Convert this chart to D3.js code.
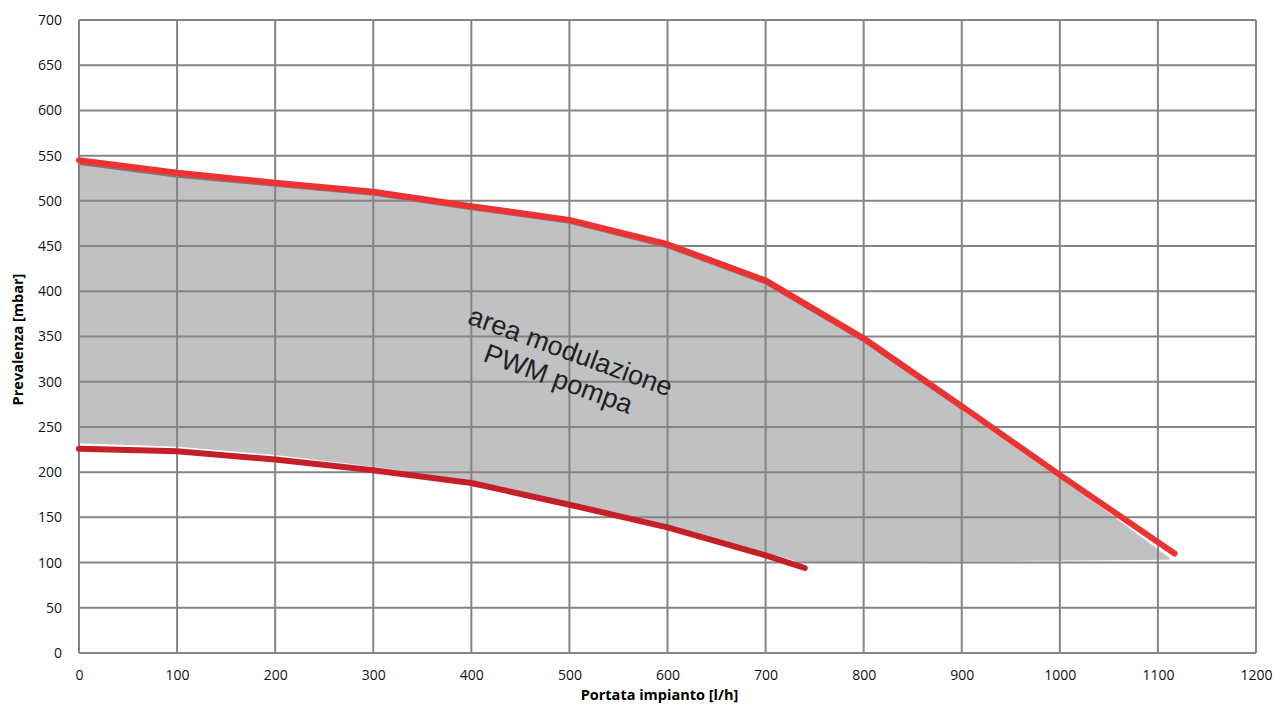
<!DOCTYPE html>
<html>
<head>
<meta charset="utf-8">
<script src="https://cdn.jsdelivr.net/npm/d3@7"></script>
<style>
  body { margin: 0; background: white; }
</style>
</head>
<body>
<svg id="chart"></svg>
<script>
const GRID_COLOR = '#858585';
const AREA_COLOR = '#c0c1c3';
const MAX_COLOR = '#ee3131';
const MIN_COLOR = '#c51f27';

// portata [l/h] / prevalenza [mbar]
const maxFlow = [0, 100, 200, 300, 400, 500, 600, 700, 800, 900, 1000, 1117];
const maxHead = [545, 531, 520, 510, 494, 479, 452, 412, 348, 273, 197, 110];

const minFlow = [0, 100, 200, 300, 400, 500, 600, 700, 740];
const minHead = [226, 223, 214, 202, 188, 164, 139, 108, 94];

// grey modulation area
const areaTopFlow = [0, 100, 200, 300, 400, 500, 600, 700, 800, 900, 1000, 1112];
const areaTopHead = [541, 527, 517, 507, 491, 476, 449, 409, 345, 270, 195, 105];
const areaBottomFlow = [1112, 735, 700, 600, 500, 400, 300, 200, 100, 0];
const areaBottomHead = [103, 100, 111, 142, 167, 191, 206, 219, 228, 232];

const xTicks = d3.range(0, 1201, 100);
const yTicks = d3.range(0, 701, 50);

const svgWidth = 1280, svgHeight = 704;
const margin = { top: 20, right: 24, bottom: 51, left: 79 };
const width = svgWidth - margin.left - margin.right;
const height = svgHeight - margin.top - margin.bottom;

const svg = d3.select('#chart')
  .attr('width', svgWidth)
  .attr('height', svgHeight)
  .append('g')
  .attr('transform', `translate(${margin.left},${margin.top})`);

const x = d3.scaleLinear().domain([0, 1200]).range([0, width]);
const y = d3.scaleLinear().domain([0, 700]).range([height, 0]);

const line = d3.line().x((d) => x(d[0])).y((d) => y(d[1]));

// area
const topPts = areaTopFlow.map((f, i) => [f, areaTopHead[i]]);
const areaPts = topPts.concat(areaBottomFlow.map((f, i) => [f, areaBottomHead[i]]));
svg.append('path')
  .attr('d', line(areaPts) + 'Z')
  .attr('fill', AREA_COLOR);

// darker rim under the top curve
svg.append('path')
  .attr('d', line(topPts.filter((d) => d[0] <= 900)))
  .attr('fill', 'none')
  .attr('stroke', '#8e7273')
  .attr('stroke-width', 2.5);

// grid
svg.append('g')
  .selectAll('line')
  .data(xTicks)
  .join('line')
  .attr('x1', (d) => x(d)).attr('x2', (d) => x(d))
  .attr('y1', 0).attr('y2', height)
  .attr('stroke', GRID_COLOR).attr('stroke-width', 2);

svg.append('g')
  .selectAll('line')
  .data(yTicks)
  .join('line')
  .attr('x1', 0).attr('x2', width)
  .attr('y1', (d) => y(d)).attr('y2', (d) => y(d))
  .attr('stroke', GRID_COLOR).attr('stroke-width', 2);

// axes labels
const xAxis = svg.append('g')
  .attr('transform', `translate(0,${height})`)
  .call(d3.axisBottom(x).tickValues(xTicks).tickFormat(d3.format('d')).tickSize(0).tickPadding(17));
const yAxis = svg.append('g')
  .call(d3.axisLeft(y).tickValues(yTicks).tickFormat(d3.format('d')).tickSize(0).tickPadding(17));

[xAxis, yAxis].forEach((a) => {
  a.select('.domain').remove();
  a.selectAll('text')
    .style('font-family', 'Open Sans, sans-serif')
    .style('font-size', '14px')
    .attr('fill', '#111');
});

// text in the area
const label = svg.append('text')
  .attr('transform', `translate(${x(498)},${y(324)}) rotate(20)`)
  .attr('text-anchor', 'middle')
  .style('font-family', 'Liberation Sans, Arial, sans-serif')
  .style('font-size', '27px')
  .attr('fill', '#231f20');
label.append('tspan').attr('x', 0).attr('dy', 0).text('area modulazione');
label.append('tspan').attr('x', -2).attr('dy', 30).text('PWM pompa');

// curves
svg.append('path')
  .attr('d', line(minFlow.map((f, i) => [f, minHead[i]])))
  .attr('fill', 'none')
  .attr('stroke', MIN_COLOR)
  .attr('stroke-width', 6)
  .attr('stroke-linecap', 'round')
  .attr('stroke-linejoin', 'round');

svg.append('path')
  .attr('d', line(maxFlow.map((f, i) => [f, maxHead[i]])))
  .attr('fill', 'none')
  .attr('stroke', MAX_COLOR)
  .attr('stroke-width', 6)
  .attr('stroke-linecap', 'round')
  .attr('stroke-linejoin', 'round');

// axis titles
svg.append('text')
  .attr('x', x(600) - 8)
  .attr('y', height + 47)
  .attr('text-anchor', 'middle')
  .style('font-family', 'Open Sans, sans-serif')
  .style('font-size', '14.5px')
  .style('font-weight', 'bold')
  .text('Portata impianto [l/h]');

svg.append('text')
  .attr('transform', `translate(${-56},${height / 2 + 3}) rotate(-90)`)
  .attr('text-anchor', 'middle')
  .style('font-family', 'Open Sans, sans-serif')
  .style('font-size', '14.5px')
  .style('font-weight', 'bold')
  .text('Prevalenza [mbar]');
</script>
</body>
</html>
